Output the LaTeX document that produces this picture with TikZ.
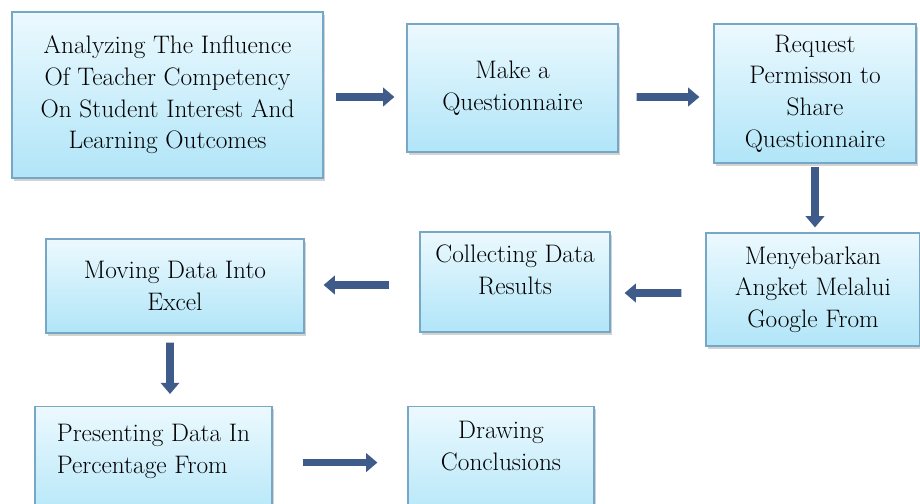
\documentclass[tikz,border=0pt]{standalone}
\usepackage{tikz}
\usetikzlibrary{arrows.meta, shadows, calc}
\definecolor{BoxTop}{RGB}{236,249,254}
\definecolor{BoxBottom}{RGB}{176,229,248}
\definecolor{BoxEdge}{RGB}{118,168,198}
\definecolor{ArrowBlue}{RGB}{63,91,138}

\tikzset{
  stepbox/.style={draw=BoxEdge, line width=0.8pt, top color=BoxTop, bottom color=BoxBottom,
    drop shadow={shadow xshift=1.5pt, shadow yshift=-2pt, opacity=0.35},
    font=\fontsize{18}{22.5}\selectfont, align=center, inner sep=0pt},
  flow/.style={ArrowBlue, line width=5.5pt, -{Triangle[width=13pt,length=8pt]}}
}

\begin{document}
\begin{tikzpicture}[x=0.025cm, y=-0.025cm]

    % frame of the picture
    \useasboundingbox (0,0) rectangle (920,504);
    \clip (0,0) rectangle (920,504);

    % first row
    \node[stepbox, minimum width=7.775cm, minimum height=4.15cm] (analyze) at (167.5,95)
        {Analyzing The Influence\\Of Teacher Competency\\On Student Interest And\\Learning Outcomes};
    \node[stepbox, minimum width=5.275cm, minimum height=3.2cm] (make) at (512.5,88)
        {Make a\\Questionnaire};
    \node[stepbox, minimum width=5.05cm, minimum height=3.475cm] (request) at (815,93.5)
        {Request\\Permisson to\\Share\\Questionnaire};

    % second row
    \node[stepbox, minimum width=5.35cm, minimum height=2.825cm] (spread) at (813,289.5)
        {Menyebarkan\\Angket Melalui\\Google From};
    \node[stepbox, minimum width=4.75cm, minimum height=2.5cm, text depth=0.62cm] (collect) at (515,282)
        {Collecting Data\\Results};
    \node[stepbox, minimum width=6.45cm, minimum height=2.35cm] (moving) at (175,286)
        {Moving Data Into\\Excel};

    % third row
    \node[stepbox, anchor=north, minimum width=5.925cm, minimum height=3cm, text depth=0.88cm,
        align=left] (present) at (153.5,406)
        {Presenting Data In\\Percentage From};
    \node[stepbox, anchor=north, minimum width=4.65cm, minimum height=3cm, text depth=1.05cm] (conclude) at (501,406)
        {Drawing\\Conclusions};

    % arrows
    \draw[flow] ($(analyze.east)+(12,2)$) -- ($(make.west)+(-12,9)$);
    \draw[flow] ($(make.east)+(18,9)$) -- ($(request.west)+(-14,3.5)$);
    \draw[flow] ($(request.south)+(0,3)$) -- ($(spread.north)+(2,-5)$);
    \draw[flow] ($(spread.west)+(-24,3.5)$) -- ($(collect.east)+(14,11)$);
    \draw[flow] ($(collect.west)+(-30,3)$) -- ($(moving.east)+(19,-1)$);
    \draw[flow] ($(moving.south)+(-5,9)$) -- ($(present.north)+(16.5,-12)$);
    \draw[flow] ($(present.east)+(30,-4)$) -- ($(conclude.west)+(-30,-4)$);

\end{tikzpicture}
\end{document}
